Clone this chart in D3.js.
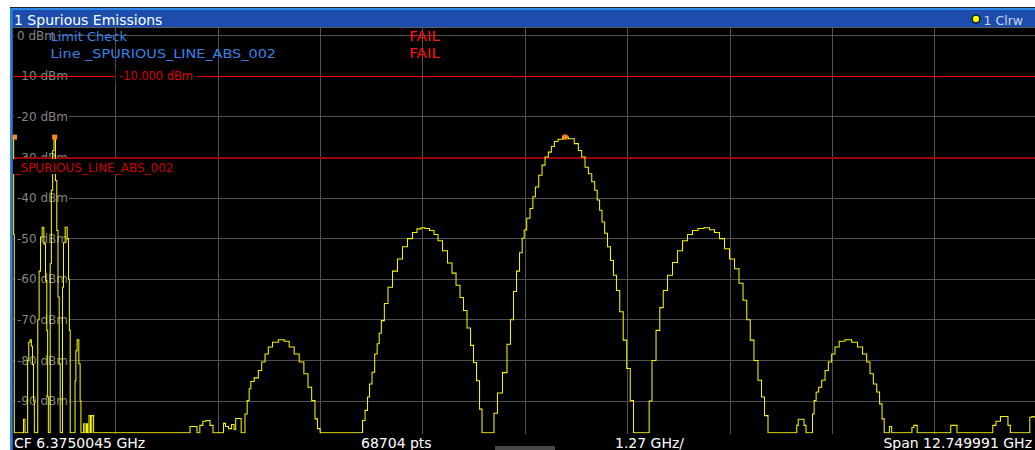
<!DOCTYPE html>
<html><head><meta charset="utf-8">
<script src="https://cdn.jsdelivr.net/npm/d3@7"></script>
<style>html,body{margin:0;padding:0;background:#fff;overflow:hidden}</style>
</head><body><svg id="c" width="1035" height="450"></svg>
<script>
// ---- data ----
const freqGHz = [
0.000,0.008,0.017,0.121,0.133,0.158,0.174,0.183,0.202,0.217,0.233,0.245,0.258,0.266,
0.295,0.314,0.329,0.349,0.370,0.391,0.411,0.423,0.432,0.441,
0.453,0.466,0.482,0.498,0.515,0.535,0.548,0.565,0.578,0.590,
0.606,0.619,0.631,0.660,0.681,0.694,0.702,0.715,
0.764,0.774,0.784,0.805,0.827,0.837,0.847,
0.870,0.881,0.905,0.918,0.930,0.955,0.967,0.986,1.014,
2.188,2.212,2.274,2.299,2.346,2.374,2.424,2.474,2.499,
2.611,2.624,2.661,2.699,2.736,2.761,2.777,2.831,2.843,
2.872,2.897,2.926,2.947,2.968,3.030,3.072,3.113,3.155,3.196,3.258,3.342,3.404,3.466,3.528,3.591,3.644,3.694,3.735,3.777,3.797,3.843,
4.338,4.358,4.400,4.420,4.450,4.482,4.516,4.544,4.566,4.599,4.640,4.690,4.752,4.814,4.877,4.939,5.001,5.051,5.101,5.150,5.213,5.263,5.312,5.375,5.437,5.487,5.537,5.586,5.624,5.674,5.711,5.748,5.786,5.823,5.848,
5.972,5.997,6.059,6.122,6.171,6.209,6.246,6.284,6.321,6.350,6.371,6.412,6.454,6.483,6.517,6.566,6.599,6.641,6.682,6.716,6.757,6.807,6.869,6.953,7.015,7.056,7.097,7.139,7.181,7.222,7.255,7.284,7.314,7.345,7.379,7.416,7.453,7.491,7.528,7.572,7.615,7.659,7.703,7.740,
7.906,7.927,7.977,8.027,8.070,8.114,8.176,8.238,8.301,8.363,8.425,8.487,8.562,8.637,8.699,8.761,8.823,8.886,8.948,9.010,9.060,9.110,9.153,9.197,9.246,9.296,9.334,9.371,9.421,
9.745,9.763,9.782,9.832,9.857,9.882,
9.940,9.960,9.981,10.010,10.043,10.085,10.127,10.168,10.209,10.251,10.314,10.396,10.479,10.542,10.604,10.645,10.687,10.729,10.770,10.800,10.832,10.853,
10.900,10.915,10.956,11.177,11.198,11.226,11.280,11.662,11.680,11.736,11.761,
12.180,12.209,12.259,12.321,12.371,12.396,12.430,12.646,12.665,12.696,12.721,12.750
];
const levelDbm = [
-25.0,-49.0,-97.8,-97.8,-94.5,-97.8,-97.8,-80.0,-75.5,-74.9,-76.5,-81.0,-90.0,-97.8,
-97.8,-70.0,-58.0,-49.6,-47.2,-51.3,-60.3,-72.6,-89.0,-97.8,
-97.8,-56.2,-38.1,-28.3,-25.0,-35.7,-48.0,-64.4,-80.8,-97.8,
-97.8,-62.0,-51.0,-47.2,-50.0,-60.0,-72.6,-97.8,
-97.8,-85.0,-77.6,-74.9,-80.8,-90.0,-97.8,
-97.8,-95.6,-97.8,-95.6,-97.8,-93.6,-97.8,-93.6,-97.8,
-97.8,-96.3,-96.3,-97.8,-96.0,-95.0,-94.8,-96.0,-97.8,
-97.8,-95.5,-96.3,-96.8,-95.8,-97.0,-94.3,-94.3,-97.8,
-97.8,-93.2,-89.9,-87.0,-85.2,-84.3,-82.5,-80.4,-78.4,-76.7,-75.5,-74.9,-75.3,-76.7,-78.4,-80.4,-83.3,-86.6,-89.9,-94.4,-96.8,-97.8,
-97.8,-94.8,-92.3,-89.0,-85.8,-82.9,-78.4,-75.9,-73.3,-70.2,-66.0,-62.0,-58.0,-55.0,-52.0,-50.0,-48.5,-47.6,-47.3,-47.5,-48.0,-49.0,-50.5,-53.0,-56.0,-58.5,-61.5,-64.5,-67.7,-72.0,-76.3,-80.5,-85.0,-92.0,-97.8,
-97.8,-93.0,-88.0,-83.0,-76.0,-70.0,-63.0,-58.0,-53.5,-49.9,-47.9,-45.0,-42.6,-39.7,-37.3,-34.4,-31.9,-29.9,-28.7,-27.3,-26.1,-25.5,-25.0,-25.4,-26.6,-28.3,-29.9,-32.4,-34.0,-36.0,-38.1,-40.5,-43.0,-45.9,-48.7,-52.0,-55.4,-59.0,-62.8,-68.0,-75.0,-82.0,-89.9,-97.8,
-97.8,-90.0,-80.0,-72.6,-67.0,-62.8,-59.0,-55.9,-53.0,-50.5,-49.0,-48.0,-47.5,-47.3,-47.8,-48.5,-50.0,-52.5,-55.0,-57.4,-61.0,-65.2,-70.0,-75.0,-80.0,-84.9,-89.0,-93.6,-97.8,
-97.8,-96.0,-94.5,-94.5,-96.0,-97.8,
-97.8,-93.2,-89.9,-87.8,-86.6,-84.9,-82.5,-80.4,-78.4,-76.7,-75.3,-74.9,-75.5,-76.7,-78.4,-80.4,-83.3,-85.8,-87.8,-90.7,-94.4,-97.8,
-97.8,-96.3,-97.8,-97.8,-96.5,-96.0,-97.8,-97.8,-96.0,-96.0,-97.8,
-97.8,-96.0,-95.0,-93.8,-93.8,-96.0,-97.8,-97.8,-94.0,-93.8,-94.0,-94.0
];
const markerFreqGHz = [0.0, 0.515, 6.869];
const markerDbm = [-25.0, -25.0, -25.0];
const yTickValues = [0, -10, -20, -30, -40, -50, -60, -70, -80, -90];
const yTickLabels = ["0 dBm", "-10 dBm", "-20 dBm", "-30 dBm", "-40 dBm", "-50 dBm", "-60 dBm", "-70 dBm", "-80 dBm", "-90 dBm"];
const xDivisions = [1, 2, 3, 4, 5, 6, 7, 8, 9];
const spanGHz = 12.749991;
const divGHz = 1.2749991;
const limitDbm = [-10, -30];
const limitText = ["-10.000 dBm", "_SPURIOUS_LINE_ABS_002"];
const tableLeft = ["Limit Check", "Line _SPURIOUS_LINE_ABS_002"];
const tableRight = ["FAIL", "FAIL"];
const footerTexts = ["CF 6.3750045 GHz", "68704 pts", "1.27 GHz/", "Span 12.749991 GHz"];
const titleText = "1 Spurious Emissions";
const traceText = "1 Clrw";

// ---- drawing ----
const svg = d3.select("#c");
const FONT = "'DejaVu Sans', sans-serif";
const x = d3.scaleLinear().domain([0, spanGHz]).range([13.3, 1037.4]);
const y = d3.scaleLinear().domain([2, -98]).range([27.5, 433.5]);
const L = 13, R = 1035, T = 28, B = 433.5;

svg.append("rect").attr("width", 1035).attr("height", 450).attr("fill", "#fff");
svg.append("rect").attr("x", 10).attr("y", 8).attr("width", 1025).attr("height", 442).attr("fill", "#000");

const defs = svg.append("defs");
defs.append("clipPath").attr("id", "plot").append("rect")
  .attr("x", L).attr("y", T).attr("width", R - L).attr("height", B - T);

// grid
const grid = svg.append("g").attr("shape-rendering", "crispEdges").attr("stroke", "#515151");
grid.selectAll("line.v").data(xDivisions).join("line")
  .attr("x1", d => x(d * divGHz)).attr("x2", d => x(d * divGHz))
  .attr("y1", T).attr("y2", B);
grid.selectAll("line.h").data(yTickValues).join("line")
  .attr("x1", L).attr("x2", R)
  .attr("y1", d => y(d)).attr("y2", d => y(d));

// y labels with black backing
const yl = svg.append("g");
yTickValues.forEach((v, i) => {
  const g = yl.append("g");
  const bg = g.append("rect").attr("fill", "#000");
  const t = g.append("text").attr("x", 17).attr("y", y(v)).attr("dy", "0.35em")
    .attr("font-family", FONT).attr("font-size", 12).attr("fill", "#858585").text(yTickLabels[i]);
  const bb = t.node().getBBox();
  bg.attr("x", 14).attr("y", y(v) - 6).attr("width", bb.x + bb.width - 14 + 1).attr("height", 12);
});

// limit lines
svg.append("line").attr("x1", L).attr("x2", R).attr("y1", y(limitDbm[0])).attr("y2", y(limitDbm[0]))
  .attr("stroke", "#ff0000").attr("stroke-width", 1).attr("shape-rendering", "crispEdges");
svg.append("line").attr("x1", L).attr("x2", R).attr("y1", y(limitDbm[1]) + 0.5).attr("y2", y(limitDbm[1]) + 0.5)
  .attr("stroke", "#a00000").attr("stroke-width", 2);
svg.append("rect").attr("x", 115.5).attr("y", y(limitDbm[0]) - 6).attr("width", 82).attr("height", 12).attr("fill", "#000");
svg.append("text").attr("x", 119).attr("y", y(limitDbm[0])).attr("dy", "0.36em")
  .attr("font-family", FONT).attr("font-size", 11.5).attr("fill", "#dd0000")
  .attr("textLength", 74).attr("lengthAdjust", "spacingAndGlyphs").text(limitText[0]);

// trace
const pts = freqGHz.map((f, i) => [f, levelDbm[i]]);
svg.append("path").attr("clip-path", "url(#plot)")
  .attr("d", d3.line().x(d => x(d[0])).y(d => y(d[1])).curve(d3.curveStep)(pts))
  .attr("fill", "none").attr("stroke", "#f4f400").attr("stroke-width", 1.05);

// spurious line label
svg.append("rect").attr("x", 13).attr("y", 159).attr("width", 163).attr("height", 15).attr("fill", "#000");
svg.append("text").attr("x", 14.5).attr("y", 171.5)
  .attr("font-family", FONT).attr("font-size", 13).attr("fill", "#cc0000")
  .attr("textLength", 159).attr("lengthAdjust", "spacingAndGlyphs").text(limitText[1]);

// markers
svg.selectAll("rect.mk").data(markerFreqGHz).join("rect")
  .attr("x", d => Math.max(x(d), 14.5) - 2.5).attr("y", (d, i) => y(markerDbm[i]) - 2.5)
  .attr("width", 5).attr("height", 5).attr("fill", "#ff8a1c");

// limit check table
svg.append("text").attr("x", 50.5).attr("y", 41).attr("font-family", FONT).attr("font-size", 13)
  .attr("fill", "#3a80ea").attr("textLength", 76.5).attr("lengthAdjust", "spacingAndGlyphs").text(tableLeft[0]);
svg.append("text").attr("x", 50.5).attr("y", 58).attr("font-family", FONT).attr("font-size", 13)
  .attr("fill", "#3a80ea").attr("textLength", 225.5).attr("lengthAdjust", "spacingAndGlyphs").text(tableLeft[1]);
[41, 58].forEach((yy, i) => {
  svg.append("text").attr("x", 409.3).attr("y", yy).attr("font-family", FONT).attr("font-size", 13.5)
    .attr("fill", "#ff1010").attr("textLength", 30.5).attr("lengthAdjust", "spacingAndGlyphs").text(tableRight[i]);
});

// title bar
svg.append("rect").attr("x", 10).attr("y", 7).attr("width", 1025).attr("height", 1).attr("fill", "#1b2532");
svg.append("rect").attr("x", 10).attr("y", 8).attr("width", 1025).attr("height", 19).attr("fill", "#1d4dac");
svg.append("rect").attr("x", 10).attr("y", 8).attr("width", 1025).attr("height", 2).attr("fill", "#2d8ae6");
svg.append("rect").attr("x", 10).attr("y", 27).attr("width", 1025).attr("height", 1).attr("fill", "#5c5c5c");
svg.append("text").attr("x", 14).attr("y", 24.5).attr("font-family", FONT).attr("font-size", 14)
  .attr("fill", "#ffffff").text(titleText);
svg.append("circle").attr("cx", 976).attr("cy", 19).attr("r", 3.8).attr("fill", "#ffff00")
  .attr("stroke", "#101010").attr("stroke-width", 1.3);
svg.append("text").attr("x", 983.5).attr("y", 24.5).attr("font-family", FONT).attr("font-size", 12.5)
  .attr("fill", "#c9d5ee").text(traceText);

// left border
svg.append("rect").attr("x", 10).attr("y", 8).attr("width", 2.7).attr("height", 442).attr("fill", "#2a80d6");

// footer
const fy = 447.5;
svg.append("text").attr("x", 14).attr("y", fy).attr("font-family", FONT).attr("font-size", 14).attr("fill", "#fff").text(footerTexts[0]);
svg.append("text").attr("x", 361).attr("y", fy).attr("font-family", FONT).attr("font-size", 14).attr("fill", "#fff").text(footerTexts[1]);
svg.append("text").attr("x", 615).attr("y", fy).attr("font-family", FONT).attr("font-size", 14).attr("fill", "#fff").text(footerTexts[2]);
svg.append("text").attr("x", 1032).attr("y", fy).attr("text-anchor", "end").attr("font-family", FONT).attr("font-size", 14).attr("fill", "#fff").text(footerTexts[3]);
svg.append("rect").attr("x", 495).attr("y", 446).attr("width", 60).attr("height", 4).attr("fill", "#474747");
</script></body></html>
